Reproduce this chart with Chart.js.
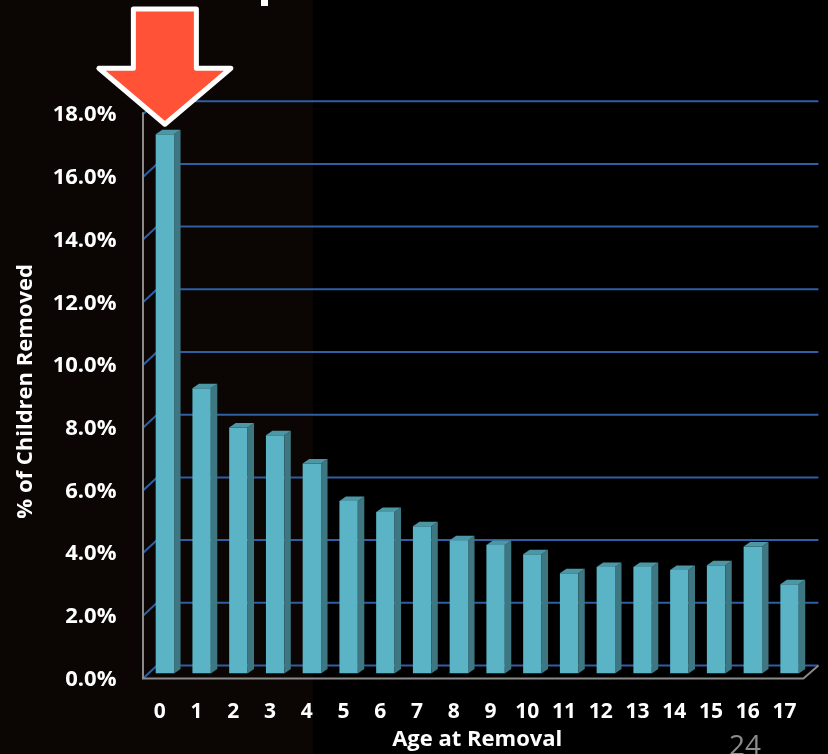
<!DOCTYPE html>
<html>
<head>
<meta charset="utf-8">
<script src="https://cdn.jsdelivr.net/npm/chart.js@4/dist/chart.umd.min.js"></script>
<style>
  html, body { margin: 0; padding: 0; background: #000; }
  canvas { display: block; }
</style>
</head>
<body>
<canvas id="c" width="828" height="754"></canvas>
<script>
// ---- data ----
const ages = ['0','1','2','3','4','5','6','7','8','9','10','11','12','13','14','15','16','17'];
const pctRemoved = [17.2, 9.1, 7.85, 7.6, 6.7, 5.5, 5.15, 4.7, 4.25, 4.1, 3.8, 3.2, 3.4, 3.4, 3.3, 3.45, 4.05, 2.85];
const yMin = 0, yMax = 18, yStep = 2;
const xTitle = 'Age at Removal';
const yTitle = '% of Children Removed';
const pageNumber = '24';

// ---- styles ----
const FONT = "'Open Sans', 'DejaVu Sans', sans-serif";
const FRONT = '#5bb4c6';
const SIDE = '#3e7682';
const TOP = '#4c97a6';
const GRID = '#2e5fa3';
const AXIS = '#8a8a8a';

const decor = {
  id: 'decor',
  beforeDraw(chart) {
    const ctx = chart.ctx;
    ctx.save();
    ctx.fillStyle = '#000';
    ctx.fillRect(0, 0, chart.width, chart.height);
    ctx.fillStyle = '#0b0604';
    ctx.fillRect(0, 0, 313, chart.height);
    // fragment of slide title above
    ctx.fillStyle = '#fff';
    ctx.fillRect(261, 0, 7, 6);
    ctx.restore();
  },
  beforeDatasetsDraw(chart) {
    const ctx = chart.ctx;
    const ys = chart.scales.y;
    const {left, right} = chart.chartArea;
    const fxL = left - 3.5, bxL = left + 10.5;
    const fxR = right - 4.5, bxR = right + 10.5;
    const fOff = 5, bOff = -8;
    ctx.save();
    ctx.lineWidth = 2;
    ctx.strokeStyle = GRID;
    ys.ticks.forEach(t => {
      const p = ys.getPixelForValue(t.value);
      ctx.beginPath();
      ctx.moveTo(fxL, p + fOff);
      ctx.lineTo(bxL, p + bOff);
      ctx.lineTo(bxR, p + bOff);
      ctx.stroke();
    });
    // front axis + floor edge
    const p0 = ys.getPixelForValue(yMin);
    const pTop = ys.getPixelForValue(yMax);
    ctx.strokeStyle = AXIS;
    ctx.beginPath();
    ctx.moveTo(fxL, pTop + 3);
    ctx.lineTo(fxL, p0 + fOff);
    ctx.lineTo(fxR, p0 + fOff);
    ctx.lineTo(bxR, p0 + bOff);
    ctx.stroke();
    ctx.restore();
  },
  afterDatasetsDraw(chart) {
    const ctx = chart.ctx;
    const meta = chart.getDatasetMeta(0);
    const dx = 6.5, dy = 4.5;
    ctx.save();
    meta.data.forEach(bar => {
      const {x, y, base, width} = bar.getProps(['x', 'y', 'base', 'width'], true);
      const l = x - width / 2, r = x + width / 2;
      ctx.fillStyle = SIDE;
      ctx.beginPath();
      ctx.moveTo(r, y);
      ctx.lineTo(r + dx, y - dy);
      ctx.lineTo(r + dx, base - dy);
      ctx.lineTo(r, base);
      ctx.closePath();
      ctx.fill();
      ctx.fillStyle = TOP;
      ctx.beginPath();
      ctx.moveTo(l, y);
      ctx.lineTo(l + dx, y - dy);
      ctx.lineTo(r + dx, y - dy);
      ctx.lineTo(r, y);
      ctx.closePath();
      ctx.fill();
    });
    ctx.restore();
  },
  afterDraw(chart) {
    const ctx = chart.ctx;
    const bar0 = chart.getDatasetMeta(0).data[0];
    const tipX = bar0.x, tipY = bar0.y - 10;
    const shaftHalf = 31.5, headHalf = 66, headH = 56, topY = 9;
    const wingY = tipY - headH;
    ctx.save();
    ctx.beginPath();
    ctx.moveTo(tipX - shaftHalf, topY);
    ctx.lineTo(tipX + shaftHalf, topY);
    ctx.lineTo(tipX + shaftHalf, wingY);
    ctx.lineTo(tipX + headHalf, wingY);
    ctx.lineTo(tipX, tipY);
    ctx.lineTo(tipX - headHalf, wingY);
    ctx.lineTo(tipX - shaftHalf, wingY);
    ctx.closePath();
    ctx.fillStyle = '#ff5236';
    ctx.fill();
    ctx.lineJoin = 'round';
    ctx.lineWidth = 5;
    ctx.strokeStyle = '#ffffff';
    ctx.stroke();
    // page number
    ctx.fillStyle = '#8c8c8c';
    ctx.font = "28px " + FONT;
    ctx.textAlign = 'left';
    ctx.textBaseline = 'alphabetic';
    ctx.fillText(pageNumber, 729, 755);
    ctx.restore();
  }
};

new Chart(document.getElementById('c'), {
  type: 'bar',
  data: {
    labels: ages,
    datasets: [{
      data: pctRemoved,
      backgroundColor: FRONT,
      borderWidth: 0,
      categoryPercentage: 1,
      barPercentage: 0.5
    }]
  },
  options: {
    responsive: false,
    animation: false,
    devicePixelRatio: 1,
    layout: { padding: { top: 109.2, right: 15.5, left: 0, bottom: 0 } },
    plugins: { legend: { display: false }, tooltip: { enabled: false } },
    scales: {
      x: {
        grid: { display: false, drawTicks: false },
        border: { display: false },
        ticks: {
          color: '#fff', autoSkip: false, maxRotation: 0,
          font: { family: FONT, size: 21, weight: 'bold' },
          padding: 26, labelOffset: -5
        },
        title: {
          display: true, text: xTitle, color: '#fff',
          font: { family: FONT, size: 22, weight: 'bold' },
          padding: { top: 0, bottom: 1 }
        },
        afterFit(s) { s.height = 80.5; }
      },
      y: {
        min: yMin, max: yMax,
        grid: { display: false, drawTicks: false },
        border: { display: false },
        ticks: {
          stepSize: yStep, color: '#fff',
          font: { family: FONT, size: 22, weight: 'bold' },
          padding: 30, labelOffset: 6,
          callback: v => v.toFixed(1) + '%'
        },
        title: {
          display: true, text: yTitle, color: '#fff',
          font: { family: FONT, size: 22, weight: 'bold' },
          padding: { top: 13, bottom: 0 }
        },
        afterFit(s) { s.width = 146.5; }
      }
    }
  },
  plugins: [decor]
});
</script>
</body>
</html>
